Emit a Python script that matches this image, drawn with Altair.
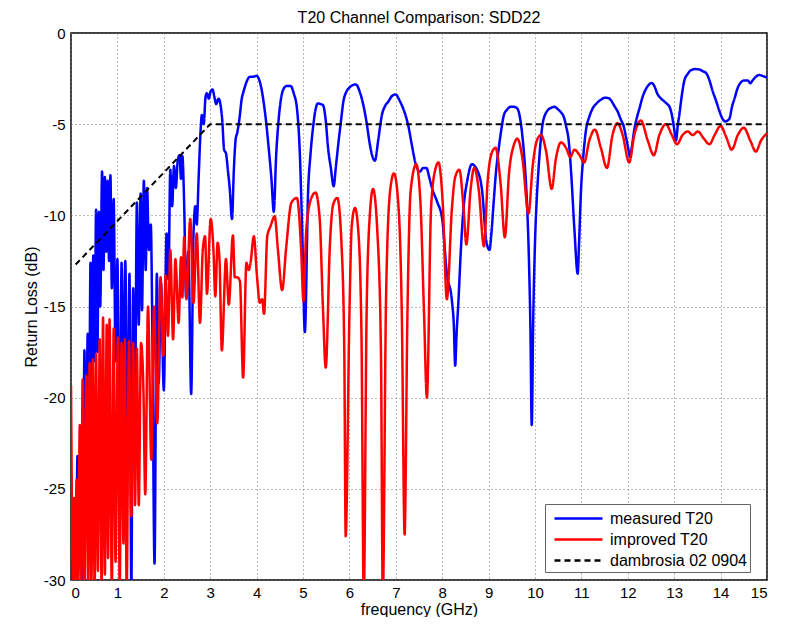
import altair as alt
import pandas as pd

# measured T20 (blue)
measured_freq = [
    0.00, 0.03, 0.07, 0.10, 0.14, 0.18, 0.22, 0.25, 0.29, 0.32, 0.36, 0.39, 0.42, 0.45, 0.48, 0.51,
    0.54, 0.57, 0.60, 0.63, 0.67, 0.70, 0.73, 0.76, 0.79, 0.82, 0.85, 0.88, 0.92, 0.96, 1.00, 1.05,
    1.09, 1.13, 1.17, 1.22, 1.26, 1.30, 1.34, 1.38, 1.42, 1.46, 1.50, 1.53, 1.57, 1.61, 1.64, 1.68,
    1.72, 1.75, 1.80, 1.85, 1.89, 1.94, 2.00, 2.06, 2.10, 2.14, 2.18, 2.22, 2.26, 2.30, 2.34, 2.37,
    2.40, 2.44, 2.48, 2.53, 2.59, 2.64, 2.68, 2.71, 2.75, 2.79, 2.82, 2.86, 2.90, 2.93, 2.97, 3.01,
    3.05, 3.09, 3.13, 3.18, 3.22, 3.26, 3.30, 3.34, 3.38, 3.42, 3.47, 3.51, 3.55, 3.58, 3.63, 3.68,
    3.72, 3.78, 3.86, 3.92, 4.00, 4.06, 4.10, 4.15, 4.21, 4.26, 4.32, 4.37, 4.42, 4.47, 4.52, 4.58,
    4.65, 4.73, 4.80, 4.87, 4.93, 4.98, 5.04, 5.11, 5.16, 5.22, 5.27, 5.32, 5.38, 5.43, 5.49, 5.54,
    5.60, 5.66, 5.71, 5.76, 5.82, 5.87, 5.94, 6.01, 6.08, 6.14, 6.22, 6.30, 6.37, 6.44, 6.50, 6.55,
    6.62, 6.70, 6.77, 6.84, 6.92, 7.00, 7.08, 7.16, 7.22, 7.27, 7.35, 7.42, 7.52, 7.59, 7.66, 7.72,
    7.78, 7.89, 8.00, 8.10, 8.21, 8.25, 8.28, 8.31, 8.35, 8.40, 8.46, 8.54, 8.64, 8.75, 8.86, 8.95,
    9.02, 9.06, 9.11, 9.16, 9.22, 9.28, 9.33, 9.40, 9.47, 9.55, 9.62, 9.68, 9.73, 9.78, 9.83, 9.87,
    9.90, 9.93, 9.96, 10.00, 10.04, 10.07, 10.12, 10.17, 10.27, 10.35, 10.42, 10.50, 10.56, 10.62,
    10.67, 10.73, 10.78, 10.85, 10.92, 10.95, 10.99, 11.04, 11.10, 11.17, 11.24, 11.33, 11.42, 11.50,
    11.57, 11.64, 11.71, 11.78, 11.85, 11.91, 11.96, 12.00, 12.05, 12.09, 12.14, 12.20, 12.25, 12.32,
    12.39, 12.45, 12.51, 12.57, 12.64, 12.72, 12.79, 12.85, 12.90, 12.95, 12.99, 13.04, 13.08, 13.11,
    13.16, 13.22, 13.29, 13.36, 13.45, 13.54, 13.62, 13.69, 13.76, 13.83, 13.90, 13.97, 14.04, 14.10,
    14.15, 14.19, 14.25, 14.30, 14.37, 14.44, 14.51, 14.58, 14.64, 14.69, 14.76, 14.83, 14.90, 15.00,
]
measured_db = [
    -29.0, -30.5, -27.0, -30.5, -23.2, -28.5, -22.8, -30.5, -17.4, -26.0, -16.5, -22.0, -12.6, -21.0, -12.2, -18.0,
    -9.7, -17.5, -9.8, -15.0, -7.6, -13.0, -7.9, -12.0, -8.1, -12.5, -7.8, -14.0, -9.1, -18.0, -12.4, -26.1,
    -12.6, -20.0, -12.5, -24.0, -13.2, -30.5, -14.0, -20.0, -9.3, -16.0, -8.8, -15.2, -8.1, -13.0, -8.5, -11.9,
    -10.5, -15.5, -29.1, -13.2, -19.2, -13.7, -19.6, -11.0, -13.5, -7.5, -9.5, -7.3, -8.5, -7.0, -6.7, -8.0,
    -6.75, -9.5, -14.5, -12.0, -19.8, -11.0, -9.5, -10.5, -8.0, -5.5, -4.5, -5.0, -3.5, -3.3, -3.6, -3.2,
    -3.1, -3.5, -3.9, -3.6, -3.9, -4.8, -6.4, -6.6, -7.5, -8.5, -10.2, -7.5, -5.8, -5.5, -4.7, -3.6,
    -3.2, -2.7, -2.4, -2.4, -2.35, -2.6, -3.0, -3.76, -5.0, -6.3, -8.0, -9.8, -6.8, -4.9, -3.7, -3.07,
    -2.9, -2.9, -3.3, -4.15, -6.5, -10.6, -16.4, -8.7, -6.7, -5.1, -4.2, -3.86, -3.9, -3.95, -4.8, -6.3,
    -7.4, -8.4, -7.3, -6.1, -4.8, -3.76, -3.2, -2.97, -2.85, -2.82, -3.2, -3.95, -4.9, -6.1, -6.8, -7.0,
    -5.9, -4.5, -4.0, -3.76, -3.45, -3.37, -3.7, -4.15, -4.6, -5.1, -6.2, -7.1, -7.6, -7.4, -7.4, -7.9,
    -8.5, -9.25, -10.2, -13.2, -14.7, -16.0, -18.25, -16.5, -14.7, -12.0, -9.6, -8.1, -7.2, -7.5, -8.65, -11.4,
    -11.9, -11.0, -9.25, -7.6, -6.3, -5.2, -4.5, -4.2, -4.05, -4.05, -4.15, -4.7, -5.7, -7.2, -9.5, -12.5,
    -16.0, -21.5, -16.0, -11.5, -9.0, -7.7, -6.0, -4.9, -4.25, -4.1, -4.05, -4.2, -4.35, -4.6,
    -5.1, -6.0, -7.7, -10.8, -13.2, -11.5, -8.7, -6.8, -5.3, -4.6, -4.15, -3.85, -3.66, -3.55,
    -3.56, -3.7, -4.0, -4.3, -4.75, -5.1, -5.7, -6.2, -6.8, -6.2, -5.3, -4.6, -4.15, -3.5,
    -3.07, -2.85, -2.74, -2.9, -3.35, -3.6, -3.76, -3.9, -4.05, -4.5, -5.1, -5.9, -5.0, -4.5,
    -3.5, -2.6, -2.25, -2.04, -1.98, -2.0, -2.1, -2.2, -2.6, -3.2, -3.7, -4.25, -4.7, -4.85,
    -4.8, -4.7, -4.0, -3.6, -3.0, -2.7, -2.6, -2.6, -2.75, -2.6, -2.4, -2.3, -2.35, -2.45,
]

# improved T20 (red)
improved_freq = [
    0.00, 0.02, 0.04, 0.07, 0.09, 0.12, 0.15, 0.19, 0.22, 0.25, 0.29, 0.33, 0.37, 0.40, 0.44, 0.47,
    0.51, 0.54, 0.58, 0.62, 0.66, 0.69, 0.73, 0.77, 0.80, 0.83, 0.88, 0.92, 0.96, 1.01, 1.05, 1.09,
    1.13, 1.16, 1.20, 1.25, 1.30, 1.34, 1.38, 1.42, 1.46, 1.51, 1.56, 1.60, 1.66, 1.73, 1.79, 1.86,
    1.93, 1.99, 2.04, 2.09, 2.14, 2.20, 2.25, 2.32, 2.37, 2.40, 2.44, 2.49, 2.57, 2.64, 2.71, 2.78,
    2.84, 2.89, 2.93, 3.01, 3.07, 3.11, 3.16, 3.20, 3.25, 3.34, 3.40, 3.49, 3.53, 3.58, 3.64, 3.71,
    3.78, 3.83, 3.87, 3.94, 4.01, 4.07, 4.12, 4.16, 4.23, 4.30, 4.39, 4.46, 4.55, 4.64, 4.75, 4.87,
    4.96, 5.01, 5.07, 5.18, 5.27, 5.36, 5.43, 5.49, 5.58, 5.65, 5.74, 5.83, 5.89, 5.92, 6.00, 6.05,
    6.12, 6.19, 6.26, 6.31, 6.37, 6.44, 6.51, 6.60, 6.68, 6.72, 6.79, 6.88, 6.96, 7.06, 7.13, 7.19,
    7.25, 7.32, 7.44, 7.53, 7.61, 7.67, 7.76, 7.85, 7.92, 8.01, 8.10, 8.21, 8.28, 8.37, 8.46, 8.52,
    8.61, 8.69, 8.79, 8.90, 8.98, 9.08, 9.15, 9.26, 9.35, 9.44, 9.55, 9.62, 9.73, 9.86, 9.95, 10.04,
    10.13, 10.24, 10.36, 10.45, 10.56, 10.67, 10.76, 10.85, 10.96, 11.06, 11.17, 11.29, 11.42, 11.55,
    11.67, 11.78, 11.89, 12.03, 12.14, 12.28, 12.43, 12.56, 12.68, 12.82, 12.95, 13.06, 13.18, 13.29,
    13.40, 13.51, 13.64, 13.76, 13.87, 14.00, 14.12, 14.24, 14.37, 14.50, 14.64, 14.76, 14.87, 15.00,
]
improved_db = [
    -19.3, -26.0, -30.5, -25.5, -30.5, -24.5, -30.5, -21.5, -30.5, -19.0, -30.5, -18.8, -30.5, -18.1, -30.5, -17.9,
    -30.5, -17.6, -29.5, -16.8, -30.5, -15.6, -29.7, -16.0, -28.8, -15.7, -30.5, -16.2, -29.0, -16.7, -30.5, -17.0,
    -28.0, -16.8, -30.5, -16.9, -26.5, -17.0, -25.9, -17.3, -25.9, -17.0, -19.5, -25.3, -15.0, -23.4, -15.0, -21.4,
    -13.4, -17.7, -13.3, -16.6, -11.9, -16.8, -12.4, -15.9, -12.3, -14.5, -11.2, -14.6, -10.2, -14.8, -11.0, -15.9,
    -11.9, -11.15, -14.3, -10.2, -11.9, -14.45, -11.5, -12.4, -17.4, -12.4, -14.9, -11.1, -13.4, -13.4, -13.6, -18.9,
    -12.6, -13.0, -12.6, -11.15, -13.4, -14.8, -14.6, -15.4, -11.15, -10.6, -10.05, -11.9, -14.1, -11.7, -9.3, -9.05,
    -11.9, -14.7, -10.8, -9.05, -8.75, -10.2, -15.1, -18.35, -11.6, -9.4, -9.05, -11.6, -17.5, -27.6, -15.5, -10.6,
    -9.6, -10.8, -16.5, -31.0, -15.5, -10.0, -8.55, -10.8, -17.5, -31.0, -14.5, -8.6, -7.7, -9.6, -15.5, -27.5,
    -15.5, -8.65, -7.2, -9.25, -15.5, -20.0, -9.6, -7.5, -7.1, -9.25, -14.6, -9.6, -7.9, -7.5, -9.6, -11.6,
    -8.65, -7.4, -8.65, -11.7, -8.1, -6.5, -6.3, -8.3, -11.2, -7.7, -6.1, -5.8, -6.9, -9.9, -7.3, -5.9,
    -5.6, -6.5, -8.55, -6.9, -6.0, -6.3, -6.8, -6.4, -6.7, -7.1, -5.9, -5.3, -6.3, -7.4,
    -5.6, -4.94, -5.6, -7.1, -5.6, -4.8, -5.9, -6.7, -5.6, -5.0, -5.6, -6.1, -5.6, -5.4,
    -5.6, -5.4, -5.8, -6.1, -5.6, -5.1, -5.7, -6.4, -5.6, -5.2, -5.9, -6.5, -5.9, -5.5,
]

# dambrosia 02 0904 limit (black dashed)
limit_freq = [0.1, 3.0, 15.0]
limit_db = [-12.7, -5.0, -5.0]

series_names = ["measured T20", "improved T20", "dambrosia 02 0904"]
series_colors = ["#0000ff", "#ff0000", "#000000"]
series_dash = [[1, 0], [1, 0], [6, 4]]

df = pd.concat([
    pd.DataFrame({"freq": measured_freq, "db": measured_db, "series": series_names[0]}),
    pd.DataFrame({"freq": improved_freq, "db": improved_db, "series": series_names[1]}),
    pd.DataFrame({"freq": limit_freq, "db": limit_db, "series": series_names[2]}),
])

font = "Liberation Sans"

x_enc = alt.X("freq:Q", title="frequency (GHz)",
              scale=alt.Scale(domain=[0, 15], nice=False),
              axis=alt.Axis(values=list(range(0, 16)), labelExpr="'' + datum.value"))
y_enc = alt.Y("db:Q", title="Return Loss (dB)",
              scale=alt.Scale(domain=[-30, 0], nice=False),
              axis=alt.Axis(values=list(range(-30, 1, 5)), labelExpr="'' + datum.value"))
# legend box sits inside the plot, lower right
legend = alt.Legend(title=None, orient="none", legendX=474, legendY=471,
                    symbolType="M-2.4,0H2.4", symbolSize=400, symbolStrokeWidth=2.5,
                    symbolOffset=19, labelOffset=20,
                    labelFontSize=16, labelFont=font, labelColor="black",
                    fillColor="white", strokeColor="#666666", padding=3, rowPadding=1)
color_enc = alt.Color("series:N", scale=alt.Scale(domain=series_names, range=series_colors),
                      legend=legend)
dash_enc = alt.StrokeDash("series:N", scale=alt.Scale(domain=series_names, range=series_dash),
                          legend=legend)

base = alt.Chart(df).encode(x=x_enc, y=y_enc, color=color_enc, strokeDash=dash_enc)

blue = base.transform_filter(alt.datum.series == series_names[0]).mark_line(
    strokeWidth=2.5, clip=True, interpolate="monotone")
red = base.transform_filter(alt.datum.series == series_names[1]).mark_line(
    strokeWidth=2.5, clip=True, interpolate="monotone")
limit = base.transform_filter(alt.datum.series == series_names[2]).mark_line(
    strokeWidth=2, clip=True)

chart = alt.layer(blue, red, limit).properties(
    width=696, height=547,
    title=alt.Title("T20 Channel Comparison: SDD22", font=font, fontSize=16,
                    fontWeight="normal", color="black", offset=8, frame="group", dy=8),
    autosize=alt.AutoSizeParams(type="none"),
    padding={"left": 63, "top": 25, "right": 12, "bottom": 37},
).configure_view(
    stroke="black", strokeWidth=1.5
).configure_axis(
    labelFont=font, labelFontSize=15, labelColor="black",
    titleFont=font, titleFontSize=16, titleFontWeight="normal", titleColor="black",
    domain=False, ticks=False,
    grid=True, gridColor="#777777", gridDash=[1, 3], gridWidth=1,
).configure_axisY(
    labelPadding=6, titlePadding=4
).configure_axisX(
    labelPadding=5, titlePadding=1
)

chart.save("out.html", embed_options={"renderer": "svg", "actions": False})
